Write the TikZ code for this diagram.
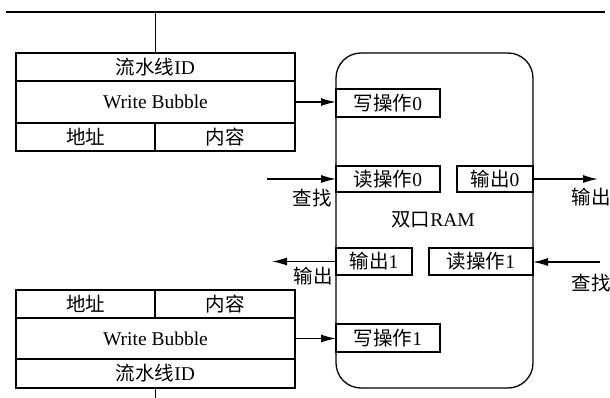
\documentclass[tikz,border=0pt]{standalone}
\usepackage{fontspec}
\setmainfont{Liberation Serif}
\newfontfamily\cjk{Noto Sans CJK SC}
\newcommand{\zhtxt}[1]{{\cjk #1}}
\usetikzlibrary{arrows.meta}
\begin{document}
\begin{tikzpicture}[x=1pt,y=-1pt,
 cell/.style={draw, line width=1.3pt, inner sep=0pt, outer sep=0pt, anchor=north west, font=\fontsize{19.5}{22}\selectfont},
 lbl/.style={inner sep=0pt, font=\fontsize{19.5}{22}\selectfont},
 arr/.style={line width=1.3pt, -{Latex[length=15pt,width=8pt]}},
 ln/.style={line width=1.3pt}]
\path[use as bounding box] (0,0) rectangle (610,398);
\coordinate (topL) at (6,12);
\coordinate (topR) at (605,12);
\draw[line width=2pt] (topL) -- (topR);
% top-left table
\node[cell, minimum width=279pt, minimum height=28pt] (tid) at (16,53) {\zhtxt{流水线}ID};
\node[cell, minimum width=279pt, minimum height=42pt] (twb) at (16,81) {Write Bubble};
\node[cell, minimum width=139pt, minimum height=28pt] (tad) at (16,123) {\zhtxt{地址}};
\node[cell, minimum width=140pt, minimum height=28pt] (tct) at (155,123) {\zhtxt{内容}};
\draw[ln] (tid.north) -- (tid.north |- topL);
% RAM
\node[draw, line width=1.3pt, rounded corners=25pt, minimum width=197pt, minimum height=335pt, anchor=north west, inner sep=0pt, outer sep=0pt] (ram) at (336,53) {};
\node[lbl] (ramlbl) at (433,220) {\zhtxt{双口}RAM};
\node[cell, minimum width=104pt, minimum height=28pt] (w0) at (336,89) {\zhtxt{写操作}0};
\node[cell, minimum width=104pt, minimum height=26pt] (r0) at (336,166) {\zhtxt{读操作}0};
\node[cell, minimum width=76pt, minimum height=26pt] (o0) at (457,166) {\zhtxt{输出}0};
\node[cell, minimum width=76pt, minimum height=27pt] (o1) at (336,248) {\zhtxt{输出}1};
\node[cell, minimum width=104pt, minimum height=27pt] (r1) at (429,248) {\zhtxt{读操作}1};
\node[cell, minimum width=104pt, minimum height=28pt] (w1) at (336,324) {\zhtxt{写操作}1};
% bottom-left table
\node[cell, minimum width=139pt, minimum height=28pt] (bad) at (16,290) {\zhtxt{地址}};
\node[cell, minimum width=140pt, minimum height=28pt] (bct) at (155,290) {\zhtxt{内容}};
\node[cell, minimum width=279pt, minimum height=41pt] (bwb) at (16,318) {Write Bubble};
\node[cell, minimum width=279pt, minimum height=29pt] (bid) at (16,359) {\zhtxt{流水线}ID};
\coordinate (bend) at (155,398);
\draw[ln] (bid.south) -- (bid.south |- bend);
% connectors
\draw[arr] (twb.east) -- (twb.east -| w0.west);
\coordinate (q0) at (267,179);
\draw[arr] (q0) -- (q0 -| r0.west);
\node[lbl] (q0l) at (312,198) {\zhtxt{查找}};
\coordinate (o0e) at (598,179);
\draw[arr] (o0.east) -- (o0.east -| o0e);
\node[lbl] (o0l) at (591,197) {\zhtxt{输出}};
\coordinate (o1e) at (272,262);
\draw[arr] (o1.west) -- (o1.west -| o1e);
\node[lbl] (o1l) at (313,276) {\zhtxt{输出}};
\coordinate (q1) at (600,262);
\draw[arr] (q1) -- (q1 -| r1.east);
\node[lbl] (q1l) at (591,283) {\zhtxt{查找}};
\draw[arr] (bwb.east) -- (bwb.east -| w1.west);
\end{tikzpicture}
\end{document}
